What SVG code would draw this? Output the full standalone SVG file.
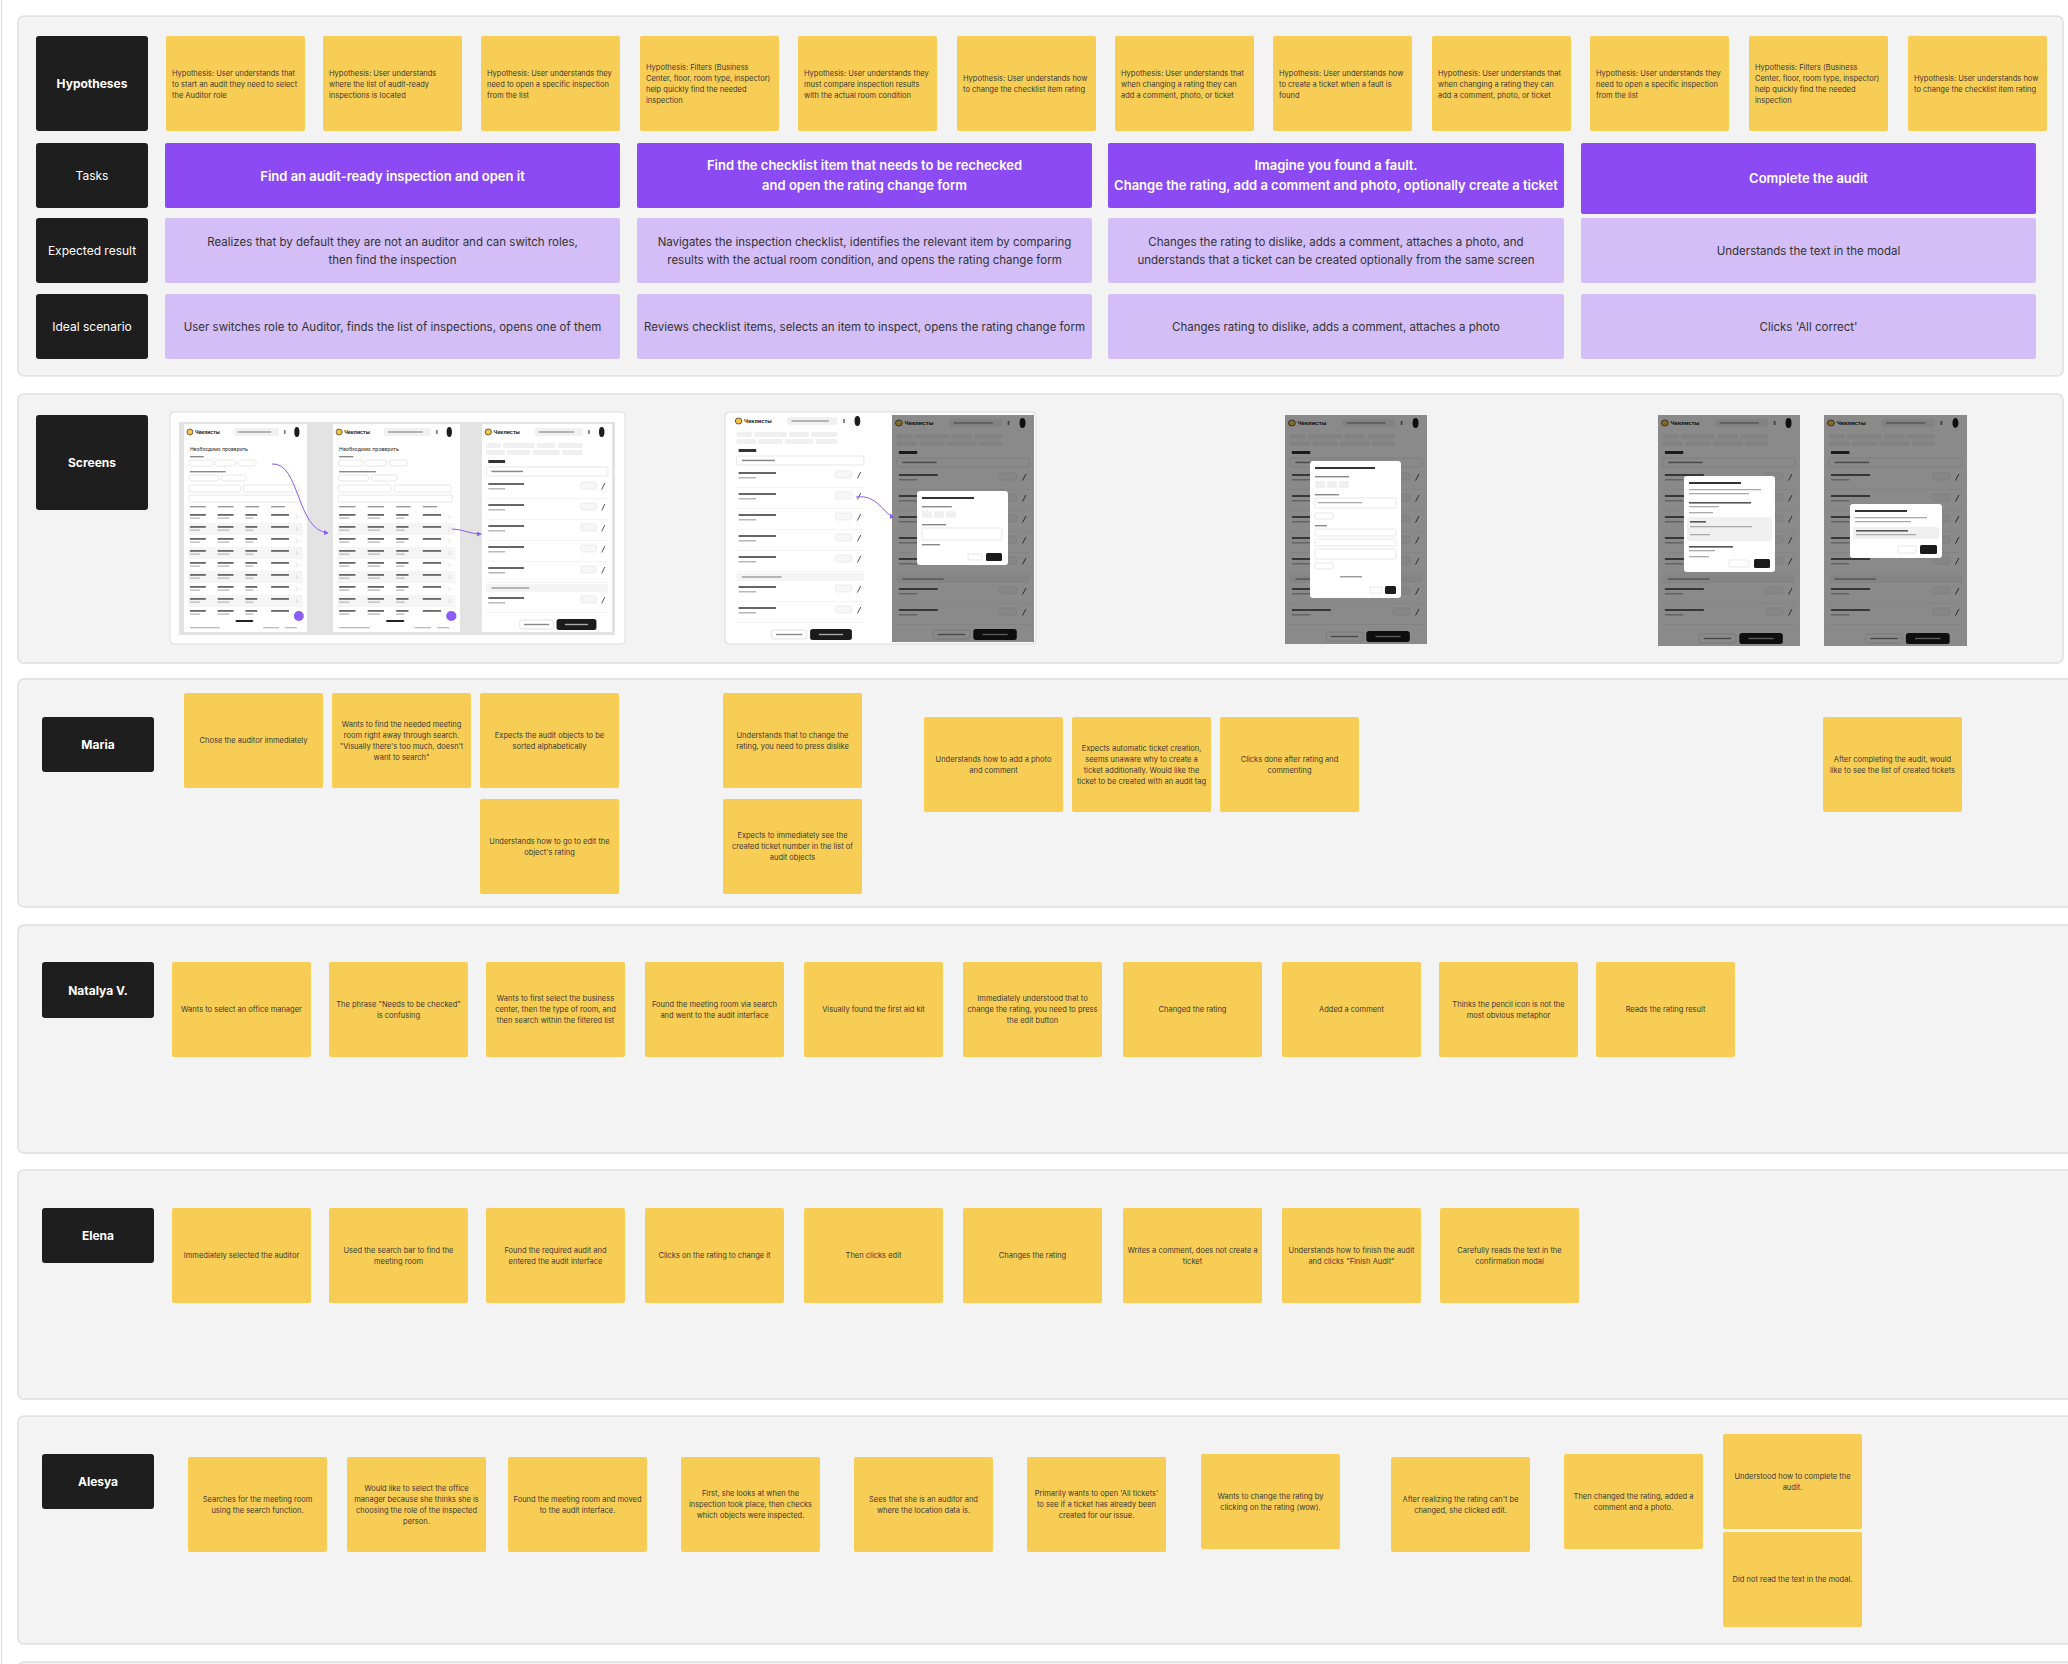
<svg xmlns="http://www.w3.org/2000/svg" xmlns:xlink="http://www.w3.org/1999/xlink" width="2068" height="1664" viewBox="0 0 2068 1664">
<style>
text{font-family:Inter,"Liberation Sans",sans-serif}
.panel{fill:#f2f3f2;stroke:#dedede;stroke-width:1.5}
.lbl{fill:#1e1e1e}
.lt{fill:#fff;font-size:12px;text-anchor:middle}
.lb{font-weight:700}
.card{fill:#f8cd55}
.ct{fill:#3a3a3a;font-size:7.5px;text-anchor:middle}
.ht{fill:#3a3a3a;font-size:7.5px}
.task{fill:#8b4af4}
.tt{fill:#fff;font-size:13px;font-weight:600;text-anchor:middle}
.er{fill:#d3bef7}
.et{fill:#333;font-size:11.5px;text-anchor:middle}
.sx{fill:#222;font-size:5px}
.scr{fill:#fff}
.dim{fill:#000;opacity:.46}
.modal{fill:#fff}
.bar{fill:#666}
.bar2{fill:#b8b8b8}
.inp{fill:#fff;stroke:#d8d8d8;stroke-width:.6}
.conn{fill:none;stroke:#8b5cf0;stroke-width:1}
</style>
<defs>
<marker id="arr" viewBox="0 0 6 6" refX="5" refY="3" markerWidth="5" markerHeight="5" orient="auto"><path d="M0 0 L6 3 L0 6 z" fill="#8b5cf0"/></marker>
<g id="hdr">
<circle cx="6" cy="8" r="3" fill="#f6c343" stroke="#333" stroke-width=".7"/>
<text x="11" y="10" class="sx lb">Чеклисты</text>
<rect x="50" y="4" width="46" height="8" rx="2" fill="#f1f1f1"/>
<rect x="54" y="7.3" width="34" height="1.4" fill="#9a9a9a"/>
<rect x="101" y="6" width="1.6" height="4" fill="#777"/>
<ellipse cx="114" cy="8" rx="2.6" ry="5" fill="#1d1d1d"/>
</g>
<g id="crow">
<line x1="4" y1="20.5" x2="120" y2="20.5" stroke="#ececec" stroke-width=".6"/>
<rect x="6" y="5" width="34" height="2" class="bar"/>
<rect x="6" y="10" width="16" height="1.5" class="bar2"/>
<rect x="94" y="4" width="15" height="7" rx="2" fill="#f7f7f7" stroke="#dedede" stroke-width=".5"/>
<path d="M114 11.5 L117 5" stroke="#333" stroke-width=".8"/>
</g>
<g id="check">
<use xlink:href="#hdr"/>
<rect x="4" y="19" width="14" height="5" rx="1.5" fill="#f0f0f0"/>
<rect x="20" y="19" width="30" height="5" rx="1.5" fill="#f0f0f0"/>
<rect x="52" y="19" width="18" height="5" rx="1.5" fill="#f0f0f0"/>
<rect x="72" y="19" width="24" height="5" rx="1.5" fill="#f0f0f0"/>
<rect x="4" y="26" width="18" height="5" rx="1.5" fill="#f0f0f0"/>
<rect x="24" y="26" width="22" height="5" rx="1.5" fill="#f0f0f0"/>
<rect x="48" y="26" width="26" height="5" rx="1.5" fill="#f0f0f0"/>
<rect x="76" y="26" width="20" height="5" rx="1.5" fill="#f0f0f0"/>
<rect x="6" y="36" width="16" height="3" fill="#333"/>
<rect x="4" y="43" width="116" height="9" rx="2" class="inp"/>
<rect x="9" y="46.7" width="30" height="1.5" fill="#888"/>
<use xlink:href="#crow" y="54"/>
<use xlink:href="#crow" y="75"/>
<use xlink:href="#crow" y="96"/>
<use xlink:href="#crow" y="117"/>
<use xlink:href="#crow" y="138"/>
<rect x="4" y="160" width="116" height="8" rx="2" fill="#f4f4f4"/>
<rect x="9" y="163.3" width="36" height="1.4" fill="#999"/>
<use xlink:href="#crow" y="168"/>
</g>
<g id="bbar">
<rect x="36" y="0" width="32" height="9" rx="2" fill="#fff" stroke="#cfcfcf" stroke-width=".6"/>
<rect x="40" y="3.8" width="24" height="1.4" fill="#888"/>
<rect x="71" y="-1" width="38" height="11" rx="2.5" fill="#1b1b1b"/>
<rect x="79" y="3.8" width="22" height="1.4" fill="#aaa"/>
</g>
<g id="trow">
<rect x="6" y="3" width="16" height="1.8" class="bar"/>
<rect x="6" y="6.5" width="10" height="1.3" class="bar2"/>
<rect x="34" y="3" width="16" height="1.8" class="bar"/>
<rect x="34" y="6.5" width="12" height="1.3" class="bar2"/>
<rect x="62" y="3" width="12" height="1.8" class="bar"/>
<rect x="62" y="6.5" width="8" height="1.3" class="bar2"/>
<rect x="88" y="3" width="18" height="1.8" class="bar"/>
<path d="M113 4 l2 2 l-2 2" stroke="#bbb" stroke-width=".5" fill="none"/>
</g>
<g id="list">
<use xlink:href="#hdr"/>
<text x="6" y="27" class="sx">Необходимо проверить</text>
<rect x="6" y="32" width="14" height="1.4" fill="#888"/>
<rect x="5" y="36" width="24" height="6" rx="3" class="inp"/>
<rect x="31" y="36" width="22" height="6" rx="3" class="inp"/>
<rect x="55" y="36" width="18" height="6" rx="3" class="inp"/>
<rect x="6" y="47" width="36" height="1.4" fill="#888"/>
<rect x="5" y="51" width="30" height="6" rx="3" class="inp"/>
<rect x="37" y="51" width="26" height="6" rx="3" class="inp"/>
<rect x="5" y="61" width="52" height="7" rx="1.5" class="inp"/>
<rect x="60" y="61" width="56" height="7" rx="1.5" class="inp"/>
<rect x="5" y="71" width="112" height="7" rx="1.5" class="inp"/>
<rect x="6" y="82" width="16" height="1.4" fill="#999"/>
<rect x="34" y="82" width="16" height="1.4" fill="#999"/>
<rect x="62" y="82" width="14" height="1.4" fill="#999"/>
<rect x="88" y="82" width="14" height="1.4" fill="#999"/>
<rect x="4" y="99" width="116" height="12" fill="#f5f5f5"/>
<rect x="4" y="123" width="116" height="12" fill="#f5f5f5"/>
<rect x="4" y="147" width="116" height="12" fill="#f5f5f5"/>
<rect x="4" y="171" width="116" height="12" fill="#f5f5f5"/>
<use xlink:href="#trow" y="87"/>
<use xlink:href="#trow" y="99"/>
<use xlink:href="#trow" y="111"/>
<use xlink:href="#trow" y="123"/>
<use xlink:href="#trow" y="135"/>
<use xlink:href="#trow" y="147"/>
<use xlink:href="#trow" y="159"/>
<use xlink:href="#trow" y="171"/>
<use xlink:href="#trow" y="183"/>
<circle cx="116" cy="192" r="5" fill="#8b5cf6"/>
<rect x="52" y="196" width="18" height="2" rx="1" fill="#222"/>
<rect x="6" y="203" width="30" height="1.3" fill="#bbb"/>
<rect x="80" y="203" width="16" height="1.3" fill="#bbb"/>
<rect x="102" y="203" width="12" height="1.3" fill="#bbb"/>
</g>
</defs>

<rect x="0" y="0" width="2068" height="1664" fill="#fff"/>
<line x1="1.5" y1="0" x2="1.5" y2="1664" stroke="#e2e2e2" stroke-width="1.5"/>

<g id="panels">
<rect class="panel" x="18" y="16" width="2045" height="360" rx="6"/>
<rect class="panel" x="18" y="394" width="2045" height="269" rx="6"/>
<rect class="panel" x="18" y="679" width="2070" height="228" rx="6"/>
<rect class="panel" x="18" y="925" width="2070" height="228" rx="6"/>
<rect class="panel" x="18" y="1170" width="2070" height="229" rx="6"/>
<rect class="panel" x="18" y="1416" width="2070" height="228" rx="6"/>
<rect class="panel" x="18" y="1662" width="2070" height="40" rx="6"/>
</g>

<!-- Row labels -->
<g id="label-hypotheses"><rect class="lbl" x="36" y="36" width="112" height="95" rx="3"/><text class="lt lb" x="92" y="88">Hypotheses</text></g>
<g id="label-tasks"><rect class="lbl" x="36" y="143" width="112" height="65" rx="3"/><text class="lt" x="92" y="180">Tasks</text></g>
<g id="label-expected"><rect class="lbl" x="36" y="218" width="112" height="65" rx="3"/><text class="lt" x="92" y="255">Expected result</text></g>
<g id="label-ideal"><rect class="lbl" x="36" y="294" width="112" height="65" rx="3"/><text class="lt" x="92" y="331">Ideal scenario</text></g>
<g id="label-screens"><rect class="lbl" x="36" y="415" width="112" height="95" rx="3"/><text class="lt lb" x="92" y="467">Screens</text></g>
<g id="label-maria"><rect class="lbl" x="42" y="717" width="112" height="55" rx="3"/><text class="lt lb" x="98" y="749">Maria</text></g>
<g id="label-natalya"><rect class="lbl" x="42" y="962" width="112" height="56" rx="3"/><text class="lt lb" x="98" y="994.5">Natalya V.</text></g>
<g id="label-elena"><rect class="lbl" x="42" y="1208" width="112" height="55" rx="3"/><text class="lt lb" x="98" y="1240">Elena</text></g>
<g id="label-alesya"><rect class="lbl" x="42" y="1454" width="112" height="55" rx="3"/><text class="lt lb" x="98" y="1486">Alesya</text></g>

<!-- Hypotheses -->
<g id="hyp-1"><rect class="card" x="166" y="36" width="139" height="95" rx="2"/><text class="ht"><tspan x="172" y="75.6">Hypothesis: User understands that</tspan><tspan x="172" y="86.6">to start an audit they need to select</tspan><tspan x="172" y="97.6">the Auditor role</tspan></text></g>
<g id="hyp-2"><rect class="card" x="323" y="36" width="139" height="95" rx="2"/><text class="ht"><tspan x="329" y="75.6">Hypothesis: User understands</tspan><tspan x="329" y="86.6">where the list of audit-ready</tspan><tspan x="329" y="97.6">inspections is located</tspan></text></g>
<g id="hyp-3"><rect class="card" x="481" y="36" width="139" height="95" rx="2"/><text class="ht"><tspan x="487" y="75.6">Hypothesis: User understands they</tspan><tspan x="487" y="86.6">need to open a specific inspection</tspan><tspan x="487" y="97.6">from the list</tspan></text></g>
<g id="hyp-4"><rect class="card" x="640" y="36" width="139" height="95" rx="2"/><text class="ht"><tspan x="646" y="70.1">Hypothesis: Filters (Business</tspan><tspan x="646" y="81.1">Center, floor, room type, inspector)</tspan><tspan x="646" y="92.1">help quickly find the needed</tspan><tspan x="646" y="103.1">inspection</tspan></text></g>
<g id="hyp-5"><rect class="card" x="798" y="36" width="139" height="95" rx="2"/><text class="ht"><tspan x="804" y="75.6">Hypothesis: User understands they</tspan><tspan x="804" y="86.6">must compare inspection results</tspan><tspan x="804" y="97.6">with the actual room condition</tspan></text></g>
<g id="hyp-6"><rect class="card" x="957" y="36" width="139" height="95" rx="2"/><text class="ht"><tspan x="963" y="81.1">Hypothesis: User understands how</tspan><tspan x="963" y="92.1">to change the checklist item rating</tspan></text></g>
<g id="hyp-7"><rect class="card" x="1115" y="36" width="139" height="95" rx="2"/><text class="ht"><tspan x="1121" y="75.6">Hypothesis: User understands that</tspan><tspan x="1121" y="86.6">when changing a rating they can</tspan><tspan x="1121" y="97.6">add a comment, photo, or ticket</tspan></text></g>
<g id="hyp-8"><rect class="card" x="1273" y="36" width="139" height="95" rx="2"/><text class="ht"><tspan x="1279" y="75.6">Hypothesis: User understands how</tspan><tspan x="1279" y="86.6">to create a ticket when a fault is</tspan><tspan x="1279" y="97.6">found</tspan></text></g>
<g id="hyp-9"><rect class="card" x="1432" y="36" width="139" height="95" rx="2"/><text class="ht"><tspan x="1438" y="75.6">Hypothesis: User understands that</tspan><tspan x="1438" y="86.6">when changing a rating they can</tspan><tspan x="1438" y="97.6">add a comment, photo, or ticket</tspan></text></g>
<g id="hyp-10"><rect class="card" x="1590" y="36" width="139" height="95" rx="2"/><text class="ht"><tspan x="1596" y="75.6">Hypothesis: User understands they</tspan><tspan x="1596" y="86.6">need to open a specific inspection</tspan><tspan x="1596" y="97.6">from the list</tspan></text></g>
<g id="hyp-11"><rect class="card" x="1749" y="36" width="139" height="95" rx="2"/><text class="ht"><tspan x="1755" y="70.1">Hypothesis: Filters (Business</tspan><tspan x="1755" y="81.1">Center, floor, room type, inspector)</tspan><tspan x="1755" y="92.1">help quickly find the needed</tspan><tspan x="1755" y="103.1">inspection</tspan></text></g>
<g id="hyp-12"><rect class="card" x="1908" y="36" width="139" height="95" rx="2"/><text class="ht"><tspan x="1914" y="81.1">Hypothesis: User understands how</tspan><tspan x="1914" y="92.1">to change the checklist item rating</tspan></text></g>

<!-- Tasks -->
<g id="task-1"><rect class="task" x="165" y="143" width="455" height="65" rx="2"/><text class="tt" x="392.5" y="180.5">Find an audit-ready inspection and open it</text></g>
<g id="task-2"><rect class="task" x="637" y="143" width="455" height="65" rx="2"/><text class="tt"><tspan x="864.5" y="170">Find the checklist item that needs to be rechecked</tspan><tspan x="864.5" y="190">and open the rating change form</tspan></text></g>
<g id="task-3"><rect class="task" x="1108" y="143" width="456" height="65" rx="2"/><text class="tt"><tspan x="1336" y="170">Imagine you found a fault.</tspan><tspan x="1336" y="190">Change the rating, add a comment and photo, optionally create a ticket</tspan></text></g>
<g id="task-4"><rect class="task" x="1581" y="143" width="455" height="71" rx="2"/><text class="tt" x="1808.5" y="183">Complete the audit</text></g>

<!-- Expected result -->
<g id="er-1"><rect class="er" x="165" y="218" width="455" height="65" rx="2"/><text class="et"><tspan x="392.5" y="246">Realizes that by default they are not an auditor and can switch roles,</tspan><tspan x="392.5" y="264">then find the inspection</tspan></text></g>
<g id="er-2"><rect class="er" x="637" y="218" width="455" height="65" rx="2"/><text class="et"><tspan x="864.5" y="246">Navigates the inspection checklist, identifies the relevant item by comparing</tspan><tspan x="864.5" y="264">results with the actual room condition, and opens the rating change form</tspan></text></g>
<g id="er-3"><rect class="er" x="1108" y="218" width="456" height="65" rx="2"/><text class="et"><tspan x="1336" y="246">Changes the rating to dislike, adds a comment, attaches a photo, and</tspan><tspan x="1336" y="264">understands that a ticket can be created optionally from the same screen</tspan></text></g>
<g id="er-4"><rect class="er" x="1581" y="218" width="455" height="65" rx="2"/><text class="et" x="1808.5" y="254.5">Understands the text in the modal</text></g>

<!-- Ideal scenario -->
<g id="is-1"><rect class="er" x="165" y="294" width="455" height="65" rx="2"/><text class="et" x="392.5" y="331">User switches role to Auditor, finds the list of inspections, opens one of them</text></g>
<g id="is-2"><rect class="er" x="637" y="294" width="455" height="65" rx="2"/><text class="et" x="864.5" y="331">Reviews checklist items, selects an item to inspect, opens the rating change form</text></g>
<g id="is-3"><rect class="er" x="1108" y="294" width="456" height="65" rx="2"/><text class="et" x="1336" y="331">Changes rating to dislike, adds a comment, attaches a photo</text></g>
<g id="is-4"><rect class="er" x="1581" y="294" width="455" height="65" rx="2"/><text class="et" x="1808.5" y="331">Clicks 'All correct'</text></g>

<!-- Screens -->
<g id="screens-1">
<rect x="170" y="412" width="455" height="232" rx="4" fill="#fff" stroke="#dcdcdc"/>
<rect x="179" y="422" width="436" height="213" fill="#e3e3e3"/>
<rect class="scr" x="184" y="424" width="123" height="208"/>
<use xlink:href="#list" transform="translate(184 424) scale(0.99 1)"/>
<rect class="scr" x="333" y="424" width="127" height="208"/>
<use xlink:href="#list" transform="translate(333 424) scale(1.02 1)"/>
<rect class="scr" x="482" y="424" width="130" height="208"/>
<use xlink:href="#check" transform="translate(482 424) scale(1.05 1)"/>
<use xlink:href="#bbar" transform="translate(482 620) scale(1.05 1)"/>
</g>
<g id="screens-2">
<rect x="725" y="412" width="311" height="232" rx="4" fill="#fff" stroke="#dcdcdc"/>
<rect class="scr" x="732" y="413" width="137" height="230"/>
<use xlink:href="#check" transform="translate(732 413) scale(1.1 1)"/>
<use xlink:href="#crow" transform="translate(732 602) scale(1.1 1)"/>
<use xlink:href="#bbar" transform="translate(732 630) scale(1.1 1)"/>
<rect class="scr" x="892" y="415" width="142" height="227"/>
<use xlink:href="#check" transform="translate(892 415) scale(1.145 1)"/>
<use xlink:href="#crow" transform="translate(892 604) scale(1.145 1)"/>
<use xlink:href="#bbar" transform="translate(892 630) scale(1.145 1)"/>
<rect class="dim" x="892" y="415" width="142" height="227"/>
<rect class="modal" x="917" y="491" width="91" height="74" rx="3"/>
<rect x="922" y="497" width="52" height="2" fill="#333"/>
<rect x="922" y="506" width="30" height="1.4" fill="#888"/>
<rect x="922" y="511" width="10" height="7" rx="1.5" fill="#f0f0f0"/>
<rect x="934" y="511" width="10" height="7" rx="1.5" fill="#f0f0f0"/>
<rect x="946" y="511" width="10" height="7" rx="1.5" fill="#f0f0f0"/>
<rect x="922" y="524" width="24" height="1.4" fill="#888"/>
<rect x="922" y="528" width="80" height="12" rx="1.5" class="inp"/>
<rect x="922" y="544" width="18" height="1.4" fill="#888"/>
<rect x="968" y="554" width="14" height="6" rx="1.5" fill="#fff" stroke="#ccc" stroke-width=".5"/>
<rect x="986" y="553" width="16" height="8" rx="1.5" fill="#1b1b1b"/>
</g>
<g id="screens-3">
<rect class="scr" x="1285" y="415" width="142" height="229"/>
<use xlink:href="#check" transform="translate(1285 415) scale(1.145 1)"/>
<use xlink:href="#crow" transform="translate(1285 604) scale(1.145 1)"/>
<use xlink:href="#bbar" transform="translate(1285 632) scale(1.145 1)"/>
<rect class="dim" x="1285" y="415" width="142" height="229"/>
<rect class="modal" x="1310" y="461" width="91" height="137" rx="3"/>
<rect x="1315" y="467" width="60" height="2" fill="#333"/>
<rect x="1315" y="476" width="34" height="1.4" fill="#888"/>
<rect x="1315" y="481" width="10" height="7" rx="1.5" fill="#f0f0f0"/>
<rect x="1327" y="481" width="10" height="7" rx="1.5" fill="#f0f0f0"/>
<rect x="1339" y="481" width="10" height="7" rx="1.5" fill="#f0f0f0"/>
<rect x="1315" y="494" width="24" height="1.4" fill="#888"/>
<rect x="1315" y="498" width="81" height="10" rx="1.5" class="inp"/>
<rect x="1318" y="502" width="44" height="1.3" fill="#aaa"/>
<rect x="1315" y="513" width="18" height="6" rx="1.5" class="inp"/>
<rect x="1315" y="525" width="12" height="1.4" fill="#888"/>
<rect x="1315" y="529" width="81" height="7" rx="1.5" class="inp"/>
<rect x="1315" y="539" width="81" height="7" rx="1.5" class="inp"/>
<rect x="1315" y="549" width="81" height="10" rx="1.5" class="inp"/>
<rect x="1315" y="563" width="18" height="6" rx="1.5" class="inp"/>
<rect x="1340" y="576" width="22" height="1.4" fill="#999"/>
<rect x="1370" y="587" width="12" height="6" rx="1.5" fill="#fff" stroke="#ccc" stroke-width=".5"/>
<rect x="1385" y="586" width="11" height="8" rx="1.5" fill="#1b1b1b"/>
</g>
<g id="screens-4">
<rect class="scr" x="1658" y="415" width="142" height="231"/>
<use xlink:href="#check" transform="translate(1658 415) scale(1.145 1)"/>
<use xlink:href="#crow" transform="translate(1658 604) scale(1.145 1)"/>
<use xlink:href="#bbar" transform="translate(1658 634) scale(1.145 1)"/>
<rect class="dim" x="1658" y="415" width="142" height="231"/>
<rect class="modal" x="1684" y="476" width="91" height="96" rx="3"/>
<rect x="1689" y="482" width="52" height="2" fill="#333"/>
<rect x="1689" y="489" width="72" height="1.3" fill="#aaa"/>
<rect x="1689" y="493" width="60" height="1.3" fill="#aaa"/>
<rect x="1689" y="502" width="62" height="1.6" fill="#555"/>
<rect x="1689" y="506" width="30" height="1.3" fill="#aaa"/>
<rect x="1689" y="512" width="24" height="1.3" fill="#aaa"/>
<rect x="1687" y="517" width="85" height="24" rx="2" fill="#f0f0f0"/>
<rect x="1690" y="521" width="16" height="1.6" fill="#555"/>
<rect x="1690" y="526" width="62" height="1.3" fill="#aaa"/>
<rect x="1690" y="534" width="20" height="1.3" fill="#aaa"/>
<rect x="1689" y="546" width="44" height="1.6" fill="#555"/>
<rect x="1689" y="550" width="26" height="1.3" fill="#aaa"/>
<rect x="1689" y="556" width="20" height="1.3" fill="#aaa"/>
<rect x="1729" y="560" width="20" height="7" rx="1.5" fill="#fff" stroke="#ccc" stroke-width=".5"/>
<rect x="1754" y="559" width="16" height="9" rx="1.5" fill="#1b1b1b"/>
<rect class="scr" x="1824" y="415" width="143" height="231"/>
<use xlink:href="#check" transform="translate(1824 415) scale(1.153 1)"/>
<use xlink:href="#crow" transform="translate(1824 604) scale(1.153 1)"/>
<use xlink:href="#bbar" transform="translate(1824 634) scale(1.153 1)"/>
<rect class="dim" x="1824" y="415" width="143" height="231"/>
<rect class="modal" x="1850" y="504" width="92" height="54" rx="3"/>
<rect x="1855" y="510" width="52" height="2" fill="#333"/>
<rect x="1855" y="517" width="72" height="1.3" fill="#aaa"/>
<rect x="1855" y="521" width="56" height="1.3" fill="#aaa"/>
<rect x="1853" y="527" width="86" height="12" rx="2" fill="#f0f0f0"/>
<rect x="1856" y="530" width="52" height="1.6" fill="#555"/>
<rect x="1856" y="534" width="60" height="1.3" fill="#aaa"/>
<rect x="1898" y="546" width="18" height="7" rx="1.5" fill="#fff" stroke="#ccc" stroke-width=".5"/>
<rect x="1920" y="545" width="17" height="9" rx="1.5" fill="#1b1b1b"/>
</g>

<g id="connectors">
<path class="conn" d="M272 464 C 300 462, 296 530, 328 533" marker-end="url(#arr)"/>
<path class="conn" d="M452 529 C 462 529, 470 534, 481 534" marker-end="url(#arr)"/>
<path class="conn" d="M856 497 C 878 494, 884 515, 894 517" marker-end="url(#arr)"/>
</g>

<!-- Maria -->
<g id="maria-1"><rect class="card" x="184" y="693" width="139" height="95" rx="2"/><text class="ct"><tspan x="253.5" y="743.1">Chose the auditor immediately</tspan></text></g>
<g id="maria-2"><rect class="card" x="332" y="693" width="139" height="95" rx="2"/><text class="ct"><tspan x="401.5" y="726.6">Wants to find the needed meeting</tspan><tspan x="401.5" y="737.6">room right away through search.</tspan><tspan x="401.5" y="748.6">"Visually there's too much, doesn't</tspan><tspan x="401.5" y="759.6">want to search"</tspan></text></g>
<g id="maria-3"><rect class="card" x="480" y="693" width="139" height="95" rx="2"/><text class="ct"><tspan x="549.5" y="737.6">Expects the audit objects to be</tspan><tspan x="549.5" y="748.6">sorted alphabetically</tspan></text></g>
<g id="maria-4"><rect class="card" x="480" y="799" width="139" height="95" rx="2"/><text class="ct"><tspan x="549.5" y="843.6">Understands how to go to edit the</tspan><tspan x="549.5" y="854.6">object's rating</tspan></text></g>
<g id="maria-5"><rect class="card" x="723" y="693" width="139" height="95" rx="2"/><text class="ct"><tspan x="792.5" y="737.6">Understands that to change the</tspan><tspan x="792.5" y="748.6">rating, you need to press dislike</tspan></text></g>
<g id="maria-6"><rect class="card" x="723" y="799" width="139" height="95" rx="2"/><text class="ct"><tspan x="792.5" y="838.1">Expects to immediately see the</tspan><tspan x="792.5" y="849.1">created ticket number in the list of</tspan><tspan x="792.5" y="860.1">audit objects</tspan></text></g>
<g id="maria-7"><rect class="card" x="924" y="717" width="139" height="95" rx="2"/><text class="ct"><tspan x="993.5" y="761.6">Understands how to add a photo</tspan><tspan x="993.5" y="772.6">and comment</tspan></text></g>
<g id="maria-8"><rect class="card" x="1072" y="717" width="139" height="95" rx="2"/><text class="ct"><tspan x="1141.5" y="750.6">Expects automatic ticket creation,</tspan><tspan x="1141.5" y="761.6">seems unaware why to create a</tspan><tspan x="1141.5" y="772.6">ticket additionally. Would like the</tspan><tspan x="1141.5" y="783.6">ticket to be created with an audit tag</tspan></text></g>
<g id="maria-9"><rect class="card" x="1220" y="717" width="139" height="95" rx="2"/><text class="ct"><tspan x="1289.5" y="761.6">Clicks done after rating and</tspan><tspan x="1289.5" y="772.6">commenting</tspan></text></g>
<g id="maria-10"><rect class="card" x="1823" y="717" width="139" height="95" rx="2"/><text class="ct"><tspan x="1892.5" y="761.6">After completing the audit, would</tspan><tspan x="1892.5" y="772.6">like to see the list of created tickets</tspan></text></g>

<!-- Natalya -->
<g id="natalya-1"><rect class="card" x="172" y="962" width="139" height="95" rx="2"/><text class="ct"><tspan x="241.5" y="1012.1">Wants to select an office manager</tspan></text></g>
<g id="natalya-2"><rect class="card" x="329" y="962" width="139" height="95" rx="2"/><text class="ct"><tspan x="398.5" y="1006.6">The phrase "Needs to be checked"</tspan><tspan x="398.5" y="1017.6">is confusing</tspan></text></g>
<g id="natalya-3"><rect class="card" x="486" y="962" width="139" height="95" rx="2"/><text class="ct"><tspan x="555.5" y="1001.1">Wants to first select the business</tspan><tspan x="555.5" y="1012.1">center, then the type of room, and</tspan><tspan x="555.5" y="1023.1">then search within the filtered list</tspan></text></g>
<g id="natalya-4"><rect class="card" x="645" y="962" width="139" height="95" rx="2"/><text class="ct"><tspan x="714.5" y="1006.6">Found the meeting room via search</tspan><tspan x="714.5" y="1017.6">and went to the audit interface</tspan></text></g>
<g id="natalya-5"><rect class="card" x="804" y="962" width="139" height="95" rx="2"/><text class="ct"><tspan x="873.5" y="1012.1">Visually found the first aid kit</tspan></text></g>
<g id="natalya-6"><rect class="card" x="963" y="962" width="139" height="95" rx="2"/><text class="ct"><tspan x="1032.5" y="1001.1">Immediately understood that to</tspan><tspan x="1032.5" y="1012.1">change the rating, you need to press</tspan><tspan x="1032.5" y="1023.1">the edit button</tspan></text></g>
<g id="natalya-7"><rect class="card" x="1123" y="962" width="139" height="95" rx="2"/><text class="ct"><tspan x="1192.5" y="1012.1">Changed the rating</tspan></text></g>
<g id="natalya-8"><rect class="card" x="1282" y="962" width="139" height="95" rx="2"/><text class="ct"><tspan x="1351.5" y="1012.1">Added a comment</tspan></text></g>
<g id="natalya-9"><rect class="card" x="1439" y="962" width="139" height="95" rx="2"/><text class="ct"><tspan x="1508.5" y="1006.6">Thinks the pencil icon is not the</tspan><tspan x="1508.5" y="1017.6">most obvious metaphor</tspan></text></g>
<g id="natalya-10"><rect class="card" x="1596" y="962" width="139" height="95" rx="2"/><text class="ct"><tspan x="1665.5" y="1012.1">Reads the rating result</tspan></text></g>

<!-- Elena -->
<g id="elena-1"><rect class="card" x="172" y="1208" width="139" height="95" rx="2"/><text class="ct"><tspan x="241.5" y="1258.1">Immediately selected the auditor</tspan></text></g>
<g id="elena-2"><rect class="card" x="329" y="1208" width="139" height="95" rx="2"/><text class="ct"><tspan x="398.5" y="1252.6">Used the search bar to find the</tspan><tspan x="398.5" y="1263.6">meeting room</tspan></text></g>
<g id="elena-3"><rect class="card" x="486" y="1208" width="139" height="95" rx="2"/><text class="ct"><tspan x="555.5" y="1252.6">Found the required audit and</tspan><tspan x="555.5" y="1263.6">entered the audit interface</tspan></text></g>
<g id="elena-4"><rect class="card" x="645" y="1208" width="139" height="95" rx="2"/><text class="ct"><tspan x="714.5" y="1258.1">Clicks on the rating to change it</tspan></text></g>
<g id="elena-5"><rect class="card" x="804" y="1208" width="139" height="95" rx="2"/><text class="ct"><tspan x="873.5" y="1258.1">Then clicks edit</tspan></text></g>
<g id="elena-6"><rect class="card" x="963" y="1208" width="139" height="95" rx="2"/><text class="ct"><tspan x="1032.5" y="1258.1">Changes the rating</tspan></text></g>
<g id="elena-7"><rect class="card" x="1123" y="1208" width="139" height="95" rx="2"/><text class="ct"><tspan x="1192.5" y="1252.6">Writes a comment, does not create a</tspan><tspan x="1192.5" y="1263.6">ticket</tspan></text></g>
<g id="elena-8"><rect class="card" x="1282" y="1208" width="139" height="95" rx="2"/><text class="ct"><tspan x="1351.5" y="1252.6">Understands how to finish the audit</tspan><tspan x="1351.5" y="1263.6">and clicks "Finish Audit"</tspan></text></g>
<g id="elena-9"><rect class="card" x="1440" y="1208" width="139" height="95" rx="2"/><text class="ct"><tspan x="1509.5" y="1252.6">Carefully reads the text in the</tspan><tspan x="1509.5" y="1263.6">confirmation modal</tspan></text></g>

<!-- Alesya -->
<g id="alesya-1"><rect class="card" x="188" y="1457" width="139" height="95" rx="2"/><text class="ct"><tspan x="257.5" y="1501.6">Searches for the meeting room</tspan><tspan x="257.5" y="1512.6">using the search function.</tspan></text></g>
<g id="alesya-2"><rect class="card" x="347" y="1457" width="139" height="95" rx="2"/><text class="ct"><tspan x="416.5" y="1490.6">Would like to select the office</tspan><tspan x="416.5" y="1501.6">manager because she thinks she is</tspan><tspan x="416.5" y="1512.6">choosing the role of the inspected</tspan><tspan x="416.5" y="1523.6">person.</tspan></text></g>
<g id="alesya-3"><rect class="card" x="508" y="1457" width="139" height="95" rx="2"/><text class="ct"><tspan x="577.5" y="1501.6">Found the meeting room and moved</tspan><tspan x="577.5" y="1512.6">to the audit interface.</tspan></text></g>
<g id="alesya-4"><rect class="card" x="681" y="1457" width="139" height="95" rx="2"/><text class="ct"><tspan x="750.5" y="1496.1">First, she looks at when the</tspan><tspan x="750.5" y="1507.1">inspection took place, then checks</tspan><tspan x="750.5" y="1518.1">which objects were inspected.</tspan></text></g>
<g id="alesya-5"><rect class="card" x="854" y="1457" width="139" height="95" rx="2"/><text class="ct"><tspan x="923.5" y="1501.6">Sees that she is an auditor and</tspan><tspan x="923.5" y="1512.6">where the location data is.</tspan></text></g>
<g id="alesya-6"><rect class="card" x="1027" y="1457" width="139" height="95" rx="2"/><text class="ct"><tspan x="1096.5" y="1496.1">Primarily wants to open 'All tickets'</tspan><tspan x="1096.5" y="1507.1">to see if a ticket has already been</tspan><tspan x="1096.5" y="1518.1">created for our issue.</tspan></text></g>
<g id="alesya-7"><rect class="card" x="1201" y="1454" width="139" height="95" rx="2"/><text class="ct"><tspan x="1270.5" y="1498.6">Wants to change the rating by</tspan><tspan x="1270.5" y="1509.6">clicking on the rating (wow).</tspan></text></g>
<g id="alesya-8"><rect class="card" x="1391" y="1457" width="139" height="95" rx="2"/><text class="ct"><tspan x="1460.5" y="1501.6">After realizing the rating can't be</tspan><tspan x="1460.5" y="1512.6">changed, she clicked edit.</tspan></text></g>
<g id="alesya-9"><rect class="card" x="1564" y="1454" width="139" height="95" rx="2"/><text class="ct"><tspan x="1633.5" y="1498.6">Then changed the rating, added a</tspan><tspan x="1633.5" y="1509.6">comment and a photo.</tspan></text></g>
<g id="alesya-10"><rect class="card" x="1723" y="1434" width="139" height="95" rx="2"/><text class="ct"><tspan x="1792.5" y="1478.6">Understood how to complete the</tspan><tspan x="1792.5" y="1489.6">audit.</tspan></text></g>
<g id="alesya-11"><rect class="card" x="1723" y="1532" width="139" height="95" rx="2"/><text class="ct"><tspan x="1792.5" y="1582.1">Did not read the text in the modal.</tspan></text></g>
</svg>
